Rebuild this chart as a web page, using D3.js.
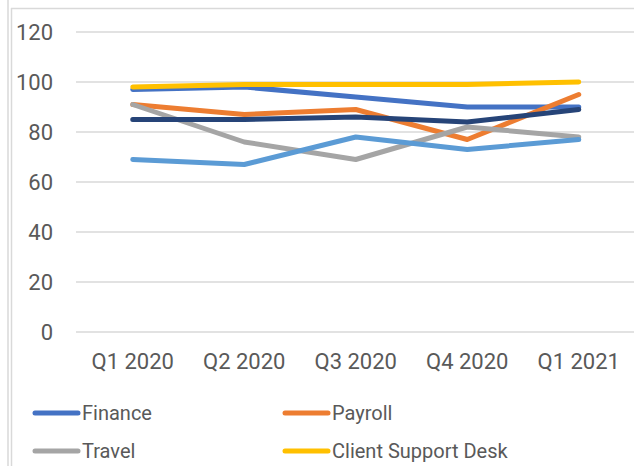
<!DOCTYPE html>
<html>
<head>
<meta charset="utf-8">
<script src="https://cdn.jsdelivr.net/npm/d3@7"></script>
<style>
  body { margin: 0; background: #fff; }
  text { font-family: Roboto, "Noto Sans", sans-serif; fill: #595959; }
</style>
</head>
<body>
<div id="container"></div>
<script>
// quarters along the x axis
var quarters = ['Q1 2020', 'Q2 2020', 'Q3 2020', 'Q4 2020', 'Q1 2021']

// one array per department
var finance = [97, 98, 94, 90, 90]
var payroll = [91, 87, 89, 77, 95]
var travel = [91, 76, 69, 82, 78]
var clientSupport = [98, 99, 99, 99, 100]
var seriesFive = [69, 67, 78, 73, 77]
var seriesSix = [85, 85, 86, 84, 89]

var yTicks = [0, 20, 40, 60, 80, 100, 120]

var seriesNames = ['Finance', 'Payroll', 'Travel', 'Client Support Desk', 'Series 5', 'Series 6']
var seriesValues = [finance, payroll, travel, clientSupport, seriesFive, seriesSix]
var colours = ['#4472C4', '#ED7D31', '#A5A5A5', '#FFC000', '#5B9BD5', '#264478']

// only the first four fit in the visible legend
var legendCount = 4

var width = 634
var height = 466

var svg = d3.select('#container').append('svg')
  .attr('width', width)
  .attr('height', height)

// chart frame, cut off on the right and bottom
svg.append('line')
  .attr('x1', 8).attr('x2', 8).attr('y1', 0).attr('y2', height)
  .style('stroke', '#d9d9d9').style('stroke-width', 1.5)
svg.append('line')
  .attr('x1', 11.5).attr('x2', 11.5).attr('y1', 8).attr('y2', height)
  .style('stroke', '#d9d9d9').style('stroke-width', 1.5)
svg.append('line')
  .attr('x1', 11).attr('x2', width).attr('y1', 8.5).attr('y2', 8.5)
  .style('stroke', '#d9d9d9').style('stroke-width', 1.5)

var x = d3.scaleBand()
  .domain(quarters)
  .range([77, 634.5])

var y = d3.scaleLinear()
  .domain([0, 120])
  .range([332, 32])

// gridlines
svg.append('g')
  .selectAll('line')
  .data(yTicks)
  .enter().append('line')
  .attr('x1', 76)
  .attr('x2', width)
  .attr('y1', function (d) { return y(d) })
  .attr('y2', function (d) { return y(d) })
  .style('stroke', '#d9d9d9')
  .style('stroke-width', 1.5)

// y axis labels
var yAxis = svg.append('g')
  .attr('transform', 'translate(53,0)')
  .call(d3.axisLeft(y).tickValues(yTicks).tickSize(0).tickPadding(0))
yAxis.select('.domain').remove()
yAxis.selectAll('text')
  .style('font-size', '22px')
  .style('fill', '#595959')
  .style('font-family', 'Roboto, "Noto Sans", sans-serif')

// x axis labels
var xAxis = svg.append('g')
  .attr('transform', 'translate(0,353)')
  .call(d3.axisBottom(x).tickSize(0).tickPadding(0))
xAxis.select('.domain').remove()
xAxis.selectAll('text')
  .style('font-size', '22px')
  .style('fill', '#595959')
  .style('font-family', 'Roboto, "Noto Sans", sans-serif')

var line = d3.line()
  .x(function (d, i) { return x(quarters[i]) + x.bandwidth() / 2 })
  .y(function (d) { return y(d) })

svg.append('g')
  .selectAll('path')
  .data(seriesValues)
  .enter().append('path')
  .attr('d', line)
  .style('fill', 'none')
  .style('stroke', function (d, i) { return colours[i] })
  .style('stroke-width', 5)
  .style('stroke-linecap', 'round')
  .style('stroke-linejoin', 'round')

// legend, two columns
var legend = svg.append('g')
  .selectAll('g')
  .data(seriesNames.slice(0, legendCount))
  .enter().append('g')
  .attr('transform', function (d, i) {
    return 'translate(' + (i % 2 === 0 ? 35 : 285) + ',' + (i < 2 ? 413 : 451) + ')'
  })

legend.append('line')
  .attr('x1', 0).attr('x2', 43)
  .style('stroke', function (d, i) { return colours[i] })
  .style('stroke-width', 5)
  .style('stroke-linecap', 'round')

legend.append('text')
  .attr('x', 47)
  .attr('dy', '0.35em')
  .style('font-size', '20px')
  .text(function (d) { return d })
</script>
</body>
</html>
